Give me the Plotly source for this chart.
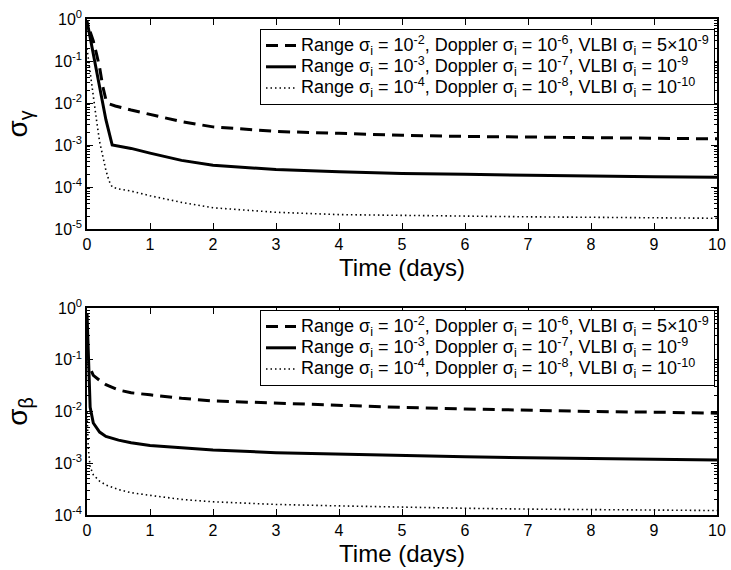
import plotly.graph_objects as go

# ---- data ----
gamma_dash_t = [0.05, 0.1, 0.15, 0.2, 0.25, 0.3, 0.35, 0.45, 0.7, 1, 1.5, 2, 2.5, 3, 4, 5, 6, 7, 8, 9, 10]
gamma_dash_v = [0.5, 0.3, 0.15, 0.07, 0.025, 0.012, 0.0095, 0.0085, 0.0068, 0.0053, 0.0036, 0.0027, 0.0024,
                0.0021, 0.0019, 0.0017, 0.0016, 0.00155, 0.0015, 0.00145, 0.0014]

gamma_solid_t = [0, 0.1, 0.2, 0.3, 0.4, 0.5, 0.7, 1, 1.5, 2, 2.5, 3, 4, 5, 6, 7, 8, 9, 10]
gamma_solid_v = [0.9, 0.15, 0.025, 0.004, 0.001, 0.00095, 0.00083, 0.00064, 0.00043, 0.00033, 0.00029,
                 0.00026, 0.00023, 0.00021, 0.0002, 0.00019, 0.00018, 0.000175, 0.00017]

gamma_dot_t = [0, 0.05, 0.1, 0.15, 0.2, 0.25, 0.3, 0.35, 0.4, 0.5, 0.7, 1, 1.5, 2, 2.5, 3, 4, 5, 6, 7, 8, 9, 10]
gamma_dot_v = [0.2, 0.05, 0.012, 0.004, 0.0012, 0.0005, 0.00025, 0.00014, 0.0001, 9e-5, 8e-5, 6.2e-5, 4.3e-5,
               3.2e-5, 2.8e-5, 2.5e-5, 2.2e-5, 2.1e-5, 2.0e-5, 1.95e-5, 1.9e-5, 1.85e-5, 1.8e-5]

beta_dash_t = [0.07, 0.1, 0.2, 0.3, 0.5, 0.7, 1, 1.5, 2, 3, 4, 5, 6, 7, 8, 9, 10]
beta_dash_v = [0.06, 0.05, 0.04, 0.033, 0.026, 0.023, 0.021, 0.018, 0.016, 0.0145, 0.013, 0.012, 0.0112,
               0.0105, 0.01, 0.0097, 0.0093]

beta_solid_t = [0, 0.02, 0.05, 0.1, 0.2, 0.3, 0.5, 0.7, 1, 1.5, 2, 3, 4, 5, 6, 7, 8, 9, 10]
beta_solid_v = [0.8, 0.1, 0.012, 0.006, 0.004, 0.0033, 0.0028, 0.0025, 0.0022, 0.002, 0.0018, 0.0016, 0.0015,
                0.0014, 0.00133, 0.00128, 0.00123, 0.00118, 0.00115]

beta_dot_t = [0, 0.02, 0.05, 0.1, 0.2, 0.3, 0.5, 0.7, 1, 1.5, 2, 3, 4, 5, 6, 7, 8, 9, 10]
beta_dot_v = [0.01, 0.002, 0.00085, 0.0006, 0.00045, 0.00038, 0.00031, 0.00027, 0.00024, 0.0002, 0.00018,
              0.00016, 0.00015, 0.00014, 0.000135, 0.00013, 0.000128, 0.000125, 0.000122]

legend_names = [
    "Range σ<sub>i</sub> = 10<sup>-2</sup>, Doppler σ<sub>i</sub> = 10<sup>-6</sup>, VLBI σ<sub>i</sub> = 5×10<sup>-9</sup>",
    "Range σ<sub>i</sub> = 10<sup>-3</sup>, Doppler σ<sub>i</sub> = 10<sup>-7</sup>, VLBI σ<sub>i</sub> = 10<sup>-9</sup>",
    "Range σ<sub>i</sub> = 10<sup>-4</sup>, Doppler σ<sub>i</sub> = 10<sup>-8</sup>, VLBI σ<sub>i</sub> = 10<sup>-10</sup>",
]

top_tickvals = [1, 1e-1, 1e-2, 1e-3, 1e-4, 1e-5]
top_ticktext = ["10<sup>0</sup>", "10<sup>-1</sup>", "10<sup>-2</sup>", "10<sup>-3</sup>", "10<sup>-4</sup>", "10<sup>-5</sup>"]
bot_tickvals = [1, 1e-1, 1e-2, 1e-3, 1e-4]
bot_ticktext = ["10<sup>0</sup>", "10<sup>-1</sup>", "10<sup>-2</sup>", "10<sup>-3</sup>", "10<sup>-4</sup>"]
x_ticks = list(range(0, 11))
minor_vals = [k * 10.0 ** e for e in range(-5, 0) for k in range(2, 10)]

FONT = "Liberation Sans, Arial, sans-serif"
styles = [
    dict(color="black", width=3, dash="12px,7px"),
    dict(color="black", width=3),
    dict(color="black", width=1.6, dash="1.5px,3px"),
]


def legend_label(s):
    return '<span style="font-size:18px">' + s + "</span>"


fig = go.Figure()
top_series = [(gamma_dash_t, gamma_dash_v), (gamma_solid_t, gamma_solid_v), (gamma_dot_t, gamma_dot_v)]
bot_series = [(beta_dash_t, beta_dash_v), (beta_solid_t, beta_solid_v), (beta_dot_t, beta_dot_v)]
for (t, v), name, st in zip(top_series, legend_names, styles):
    fig.add_trace(go.Scatter(x=t, y=v, mode="lines", name=legend_label(name), line=st,
                             xaxis="x", yaxis="y", legend="legend"))
for (t, v), name, st in zip(bot_series, legend_names, styles):
    fig.add_trace(go.Scatter(x=t, y=v, mode="lines", name=legend_label(name), line=st,
                             xaxis="x2", yaxis="y2", legend="legend2"))

L, R, T, B = 87, 14, 19, 55
H = 570 - T - B
top_dom = [(515 - 229) / H, 1.0]
bot_dom = [0.0, (515 - 308) / H]

xax = dict(range=[0, 10], tickvals=x_ticks, ticks="inside", ticklen=6, tickwidth=1, tickcolor="black",
           showline=True, linecolor="black", linewidth=1.5, mirror="ticks", showgrid=False, zeroline=False,
           automargin=False,
           tickfont=dict(family=FONT, size=16, color="black"),
           title=dict(text="Time (days)", font=dict(family=FONT, size=24, color="black"), standoff=7))
yax = dict(type="log", ticks="inside", ticklen=6, tickwidth=1, tickcolor="black",
           showline=True, linecolor="black", linewidth=1.5, mirror="ticks", showgrid=False, zeroline=False,
           automargin=False,
           tickfont=dict(family=FONT, size=16, color="black"),
           minor=dict(ticks="inside", ticklen=3, tickcolor="black", tickvals=minor_vals, showgrid=False))

fig.update_layout(
    width=731, height=570,
    margin=dict(l=L, r=R, t=T, b=B),
    paper_bgcolor="white", plot_bgcolor="white",
    font=dict(family=FONT, color="black"),
    xaxis=dict(xax, domain=[0, 1], anchor="y"),
    xaxis2=dict(xax, domain=[0, 1], anchor="y2"),
    yaxis=dict(yax, domain=top_dom, anchor="x", range=[-5, 0], tickvals=top_tickvals, ticktext=top_ticktext,
               title=dict(text="σ<sub>γ</sub>", font=dict(family=FONT, size=28, color="black"), standoff=18)),
    yaxis2=dict(yax, domain=bot_dom, anchor="x2", range=[-4, 0], tickvals=bot_tickvals, ticktext=bot_ticktext,
                title=dict(text="σ<sub>β</sub>", font=dict(family=FONT, size=28, color="black"), standoff=18)),
    legend=dict(x=1 - 2 / 630, xanchor="right", y=1 - 10 / H, yanchor="top",
                bordercolor="black", borderwidth=1, bgcolor="white", itemwidth=30,
                font=dict(family=FONT, size=14, color="black"), tracegroupgap=0),
    legend2=dict(x=1 - 2 / 630, xanchor="right", y=bot_dom[1] - 2 / H, yanchor="top",
                 bordercolor="black", borderwidth=1, bgcolor="white", itemwidth=30,
                 font=dict(family=FONT, size=14, color="black"), tracegroupgap=0),
    showlegend=True,
)

fig.write_html("out.html", config={"displayModeBar": False},
               post_script="document.body.style.margin='0';document.body.style.overflow='hidden';")
